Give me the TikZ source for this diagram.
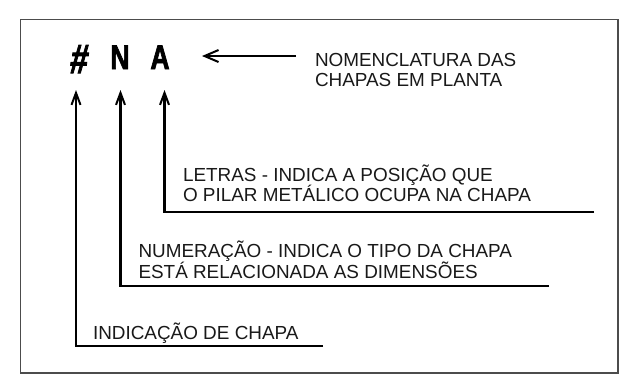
\documentclass[tikz,border=0pt]{standalone}
\usepackage{fontspec}
\setmainfont{Liberation Sans}
\newfontfamily\heavyfont{Liberation Sans Bold}[FakeBold=2.5]
\usetikzlibrary{arrows.meta}

\begin{document}
\begin{tikzpicture}[x=1pt, y=-1pt]
\tikzstyle{every node}=[inner sep=0pt, outer sep=0pt, text=black!90];
\tikzstyle{note}=[anchor=base west, align=left, font=\fontsize{18.9}{20.7}\selectfont];
\tikzstyle{glyph}=[anchor=base, xscale=0.78, text=black, font=\fontsize{34}{34}\heavyfont];
\tikzstyle{lead}=[line width=2.6pt, line join=miter, -{Straight Barb[length=12pt,width=9pt,line width=2pt]}];
\useasboundingbox (0,0) rectangle (627,381);
\draw[line width=1.2pt, black!70] (20.5,19.5) rectangle (618,373);
% nomenclatura
\node[glyph, xslant=0.15, font=\fontsize{41}{41}\heavyfont] (hash) at (78, 73) {\#};
\node[glyph] (numb) at (120, 69) {N};
\node[glyph] (lett) at (160, 69) {A};
\node[note] (nomen) at (315, 86.7) {NOMENCLATURA DAS\\CHAPAS EM PLANTA};
\node[note] (letras) at (183, 201.7) {LETRAS - INDICA A POSIÇÃO QUE\\O PILAR METÁLICO OCUPA NA CHAPA};
\node[note] (numer) at (138.5, 278.5) {NUMERAÇÃO - INDICA O TIPO DA CHAPA\\ESTÁ RELACIONADA AS DIMENSÕES};
\node[note] (indic) at (93, 339.3) {INDICAÇÃO DE CHAPA};
% chamadas
\coordinate (tH) at (76, 90);
\coordinate (tN) at (120.5, 90);
\coordinate (tL) at (164.5, 90);
\coordinate (cH) at (76, 346);
\coordinate (cN) at (120.5, 286);
\coordinate (cL) at (164.5, 212);
\coordinate (eH) at (323, 346);
\coordinate (eN) at (549, 286);
\coordinate (eL) at (594, 212);
\draw[lead] (eL) -- (cL) -- (tL);
\draw[lead] (eN) -- (cN) -- (tN);
\draw[lead] (eH) -- (cH) -- (tH);
\coordinate (aS) at (296, 56);
\coordinate (aE) at (202, 56);
\draw[lead, line width=2pt, -{Straight Barb[length=14pt,width=12pt,line width=2pt]}] (aS) -- (aE);
\end{tikzpicture}
\end{document}
